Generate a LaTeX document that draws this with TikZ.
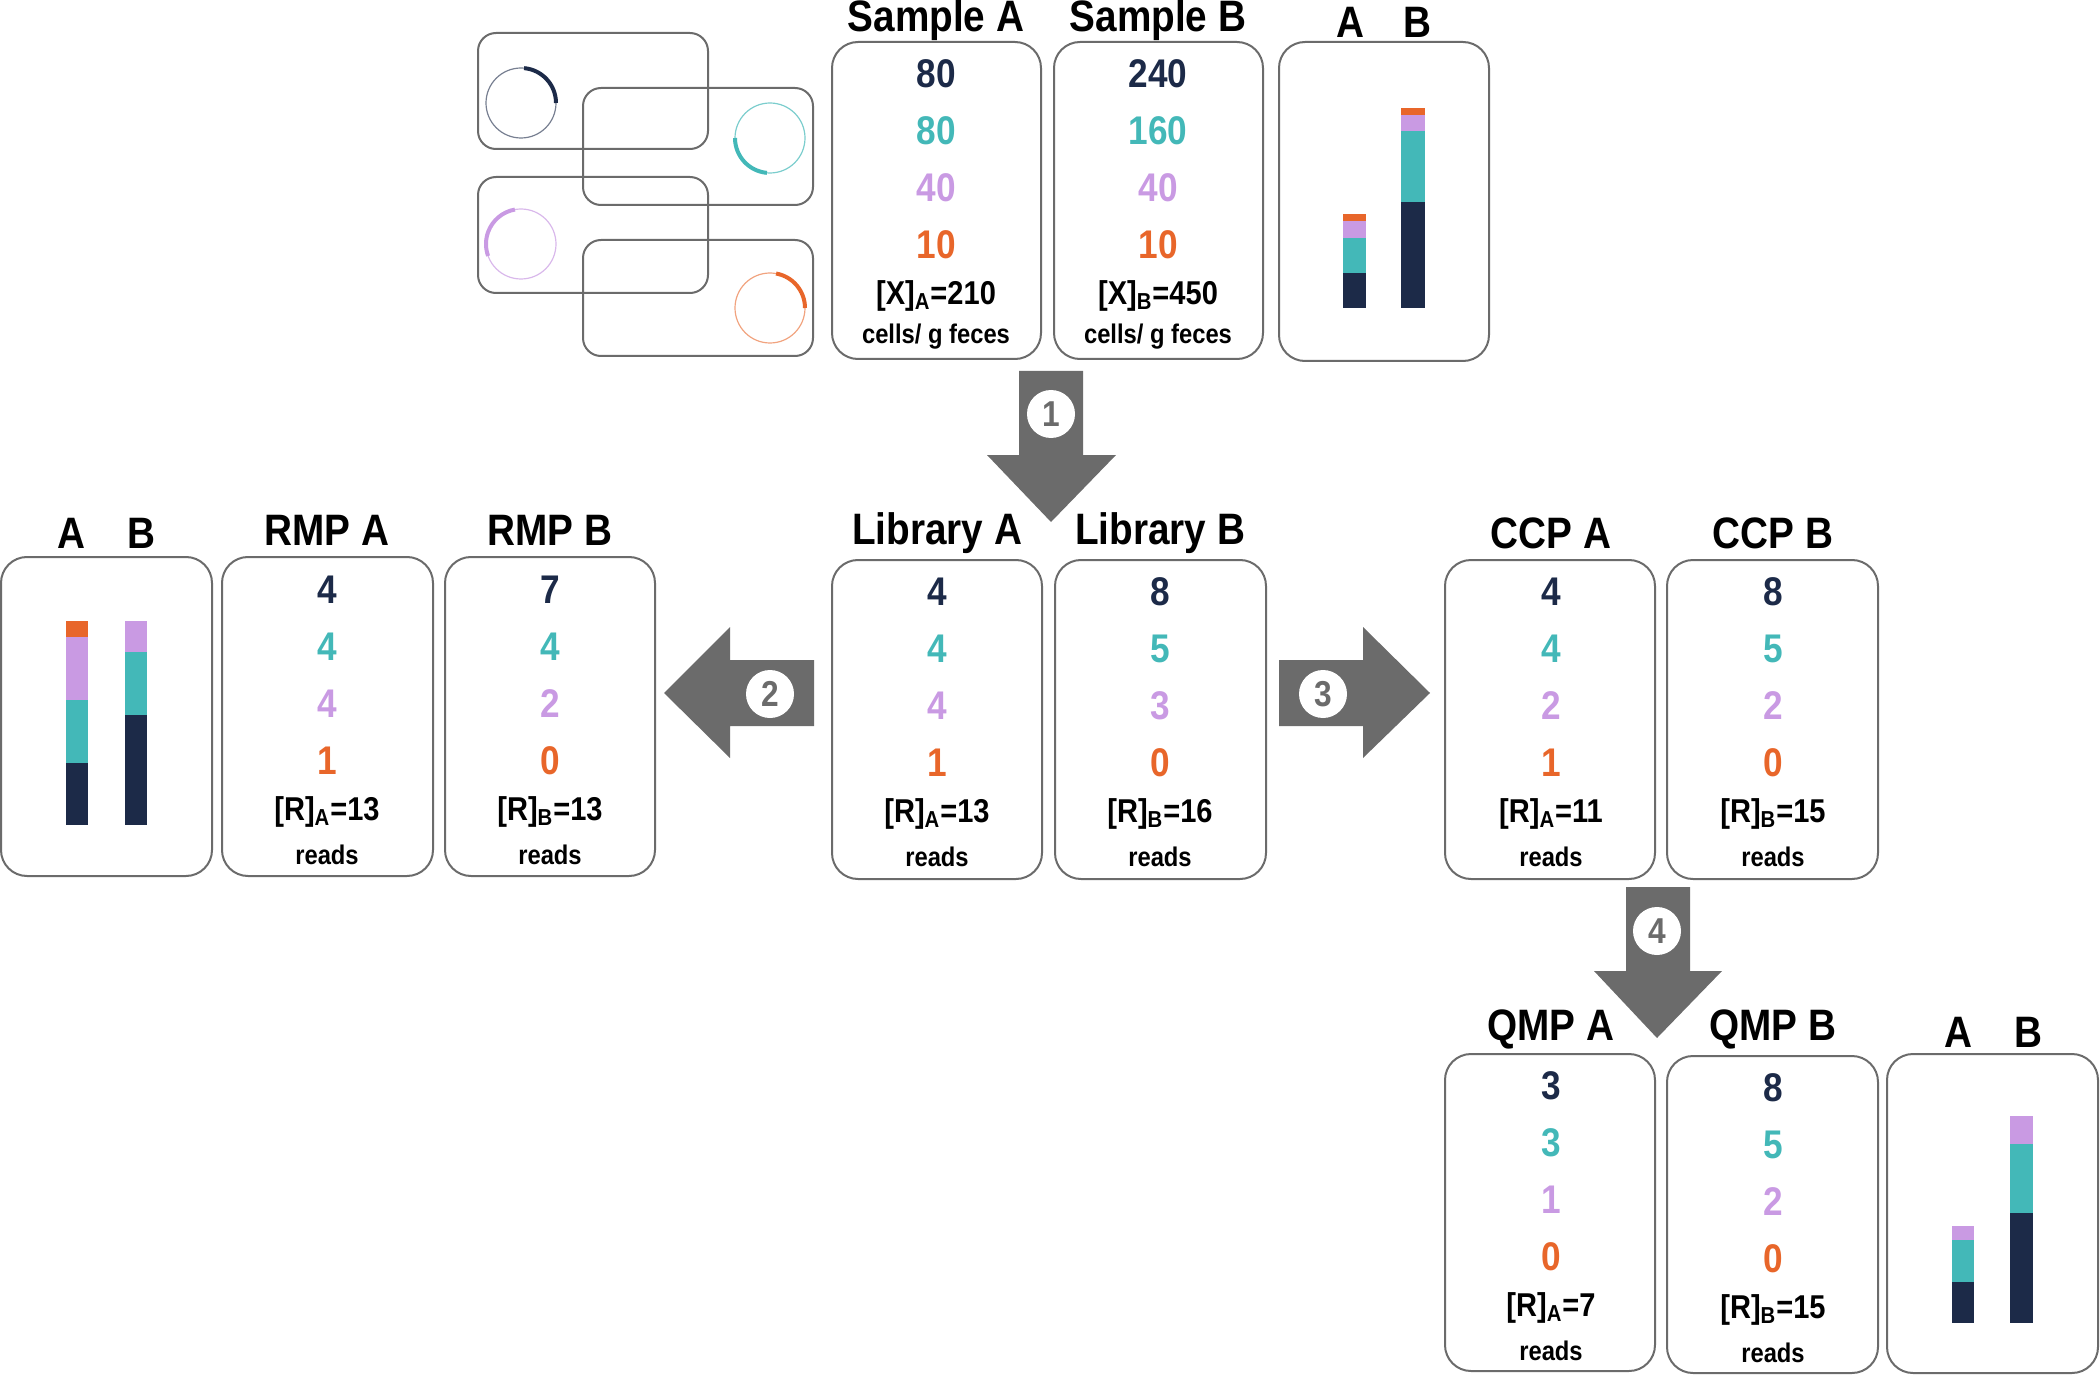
\documentclass[tikz,border=0pt]{standalone}
\usepackage{fontspec}
\setmainfont{Liberation Sans}[FakeStretch=0.88]
\definecolor{cN}{HTML}{1C2A48}
\definecolor{cT}{HTML}{43B8B8}
\definecolor{cL}{HTML}{C99AE3}
\definecolor{cO}{HTML}{E8662A}
\definecolor{cG}{HTML}{6B6B6B}
\tikzset{
  box/.style={draw=cG,line width=1pt,rounded corners=13pt},
  head/.style={font=\fontsize{22}{24}\selectfont\bfseries,anchor=center},
  num/.style={font=\fontsize{20}{22}\selectfont\bfseries,anchor=center},
  eq/.style={font=\fontsize{16.5}{18}\selectfont\bfseries,anchor=center},
  unit/.style={font=\fontsize{13.5}{15}\selectfont\bfseries,anchor=center},
  blk/.style={fill=cG,draw=none},
  stepno/.style={circle,fill=white,draw=none,minimum size=24pt,inner sep=0pt,text=cG,font=\fontsize{18}{20}\selectfont\bfseries},
  cell/.style={draw=cG,line width=1pt,rounded corners=9pt}
}
\newcommand\mycol[8]{%
  \node[num,text=cN] (#1n1) at (#2,#3) {#4};
  \node[num,text=cT] (#1n2) at (#2,#3+57) {#5};
  \node[num,text=cL] (#1n3) at (#2,#3+114) {#6};
  \node[num,text=cO] (#1n4) at (#2,#3+171) {#7};
  \node[eq] (#1eq) at (#2,#3+222) {#8};}
\newcommand\myunit[4]{\node[unit] (#1u) at (#2,#3+265) {#4};}
\begin{document}
\begin{tikzpicture}[x=0.5pt,y=-0.5pt]
\useasboundingbox (0,0) rectangle (2100,1375);
% ---- cells
\draw[cell] (478,33) rectangle (708,149);
\draw[cell] (583,88) rectangle (813,205);
\draw[cell] (478,177) rectangle (708,293);
\draw[cell] (583,240) rectangle (813,356);
\draw[cN!60,line width=0.6pt] (521,103) circle (35);
\draw[cN,line width=2pt] (521,103)+(-85:35) arc (-85:0:35);
\draw[cT!70,line width=0.6pt] (770,138) circle (35);
\draw[cT,line width=2pt] (770,138)+(180:35) arc (180:95:35);
\draw[cL!70,line width=0.6pt] (521,244) circle (35);
\draw[cL,line width=2pt] (521,244)+(-100:35) arc (-100:-200:35);
\draw[cO!60,line width=0.6pt] (770,308) circle (35);
\draw[cO,line width=2pt] (770,308)+(-80:35) arc (-80:0:35);
% ---- top row
\draw[box] (832,42) rectangle (1041,359);
\draw[box] (1054,42) rectangle (1263,359);
\draw[box] (1279,42) rectangle (1489,361);
\node[head] (hSA) at (936,20) {Sample A};
\node[head] (hSB) at (1158,20) {Sample B};
\node[head] (hA1) at (1350,22) {A};
\node[head] (hB1) at (1417,22) {B};
\mycol{sa}{936}{74}{80}{80}{40}{10}{[X]\textsubscript{A}=210}
\myunit{sa}{936}{72}{cells/ g feces}
\mycol{sb}{1158}{74}{240}{160}{40}{10}{[X]\textsubscript{B}=450}
\myunit{sb}{1158}{72}{cells/ g feces}
\fill[cN] (1343,308) rectangle (1366,273);
\fill[cT] (1343,273) rectangle (1366,238);
\fill[cL] (1343,238) rectangle (1366,221);
\fill[cO] (1343,221) rectangle (1366,214);
\fill[cN] (1401,308) rectangle (1425,202);
\fill[cT] (1401,202) rectangle (1425,131);
\fill[cL] (1401,131) rectangle (1425,115);
\fill[cO] (1401,115) rectangle (1425,108);
% ---- arrow 1
\fill[blk] (1019,371) -- (1083,371) -- (1083,455) -- (1116,455) -- (1051,522) -- (987,455) -- (1019,455) -- cycle;
\node[stepno] (s1) at (1051,414) {1};
% ---- middle row
\draw[box] (832,560) rectangle (1042,879);
\draw[box] (1055,560) rectangle (1266,879);
\node[head] (hLA) at (937,533) {Library A};
\node[head] (hLB) at (1160,533) {Library B};
\mycol{la}{937}{592}{4}{4}{4}{1}{[R]\textsubscript{A}=13}
\myunit{la}{937}{592}{reads}
\mycol{lb}{1160}{592}{8}{5}{3}{0}{[R]\textsubscript{B}=16}
\myunit{lb}{1160}{592}{reads}
% RMP
\draw[box] (1,557) rectangle (212,876);
\draw[box] (222,557) rectangle (433,876);
\draw[box] (445,557) rectangle (655,876);
\node[head] (hA2) at (71,533) {A};
\node[head] (hB2) at (141,533) {B};
\node[head] (hRA) at (327,530) {RMP A};
\node[head] (hRB) at (550,530) {RMP B};
\mycol{ra}{327}{590}{4}{4}{4}{1}{[R]\textsubscript{A}=13}
\myunit{ra}{327}{590}{reads}
\mycol{rb}{550}{590}{7}{4}{2}{0}{[R]\textsubscript{B}=13}
\myunit{rb}{550}{590}{reads}
\fill[cN] (66,825) rectangle (88,763);
\fill[cT] (66,763) rectangle (88,700);
\fill[cL] (66,700) rectangle (88,637);
\fill[cO] (66,637) rectangle (88,621);
\fill[cN] (125,825) rectangle (147,715);
\fill[cT] (125,715) rectangle (147,652);
\fill[cL] (125,652) rectangle (147,621);
% arrow 2
\fill[blk] (814,660) -- (814,726) -- (730,726) -- (730,758) -- (664,693) -- (730,627) -- (730,660) -- cycle;
\node[stepno] (s2) at (770,694) {2};
% arrow 3
\fill[blk] (1279,660) -- (1363,660) -- (1363,627) -- (1430,693) -- (1363,758) -- (1363,726) -- (1279,726) -- cycle;
\node[stepno] (s3) at (1323,694) {3};
% CCP
\draw[box] (1445,560) rectangle (1655,879);
\draw[box] (1667,560) rectangle (1878,879);
\node[head] (hCA) at (1551,533) {CCP A};
\node[head] (hCB) at (1773,533) {CCP B};
\mycol{ca}{1551}{592}{4}{4}{2}{1}{[R]\textsubscript{A}=11}
\myunit{ca}{1551}{592}{reads}
\mycol{cb}{1773}{592}{8}{5}{2}{0}{[R]\textsubscript{B}=15}
\myunit{cb}{1773}{592}{reads}
% arrow 4
\fill[blk] (1626,887) -- (1690,887) -- (1690,971) -- (1722,971) -- (1657,1038) -- (1594,971) -- (1626,971) -- cycle;
\node[stepno] (s4) at (1657,931) {4};
% QMP
\draw[box] (1445,1054) rectangle (1655,1371);
\draw[box] (1667,1056) rectangle (1878,1373);
\draw[box] (1887,1054) rectangle (2098,1373);
\node[head] (hQA) at (1551,1029) {QMP A};
\node[head] (hQB) at (1773,1029) {QMP B};
\node[head] (hA3) at (1958,1032) {A};
\node[head] (hB3) at (2028,1032) {B};
\mycol{qa}{1551}{1086}{3}{3}{1}{0}{[R]\textsubscript{A}=7}
\myunit{qa}{1551}{1086}{reads}
\mycol{qb}{1773}{1088}{8}{5}{2}{0}{[R]\textsubscript{B}=15}
\myunit{qb}{1773}{1088}{reads}
\fill[cN] (1952,1323) rectangle (1974,1282);
\fill[cT] (1952,1282) rectangle (1974,1240);
\fill[cL] (1952,1240) rectangle (1974,1226);
\fill[cN] (2010,1323) rectangle (2033,1213);
\fill[cT] (2010,1213) rectangle (2033,1144);
\fill[cL] (2010,1144) rectangle (2033,1116);
\end{tikzpicture}
\end{document}
